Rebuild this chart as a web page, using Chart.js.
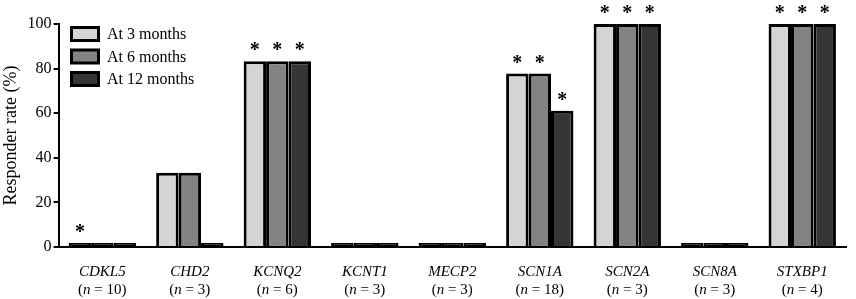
<!DOCTYPE html>
<html>
<head>
<meta charset="utf-8">
<script src="https://cdn.jsdelivr.net/npm/chart.js@4/dist/chart.umd.min.js"></script>
<style>
  html, body { margin: 0; padding: 0; background: #fff; }
  #wrap { width: 856px; height: 299px; }
</style>
</head>
<body>
<div id="wrap"><canvas id="responderChart"></canvas></div>
<script>
// genes, cohort sizes and responder rates (%)
const genes = ['CDKL5', 'CHD2', 'KCNQ2', 'KCNT1', 'MECP2', 'SCN1A', 'SCN2A', 'SCN8A', 'STXBP1'];
const cohortSizes = [10, 3, 6, 3, 3, 18, 3, 3, 4];
const rate3m = [0, 33.3, 83.3, 0, 0, 77.8, 100, 0, 100];
const rate6m = [0, 33.3, 83.3, 0, 0, 77.8, 100, 0, 100];
const rate12m = [0, 0, 83.3, 0, 0, 61.1, 100, 0, 100];
// significance markers per series
const star3m = [true, false, true, false, false, true, true, false, true];
const star6m = [false, false, true, false, false, true, true, false, true];
const star12m = [false, false, true, false, false, true, true, false, true];
const yTicks = [0, 20, 40, 60, 80, 100];

const serif = "'Liberation Serif', 'DejaVu Serif', serif";
const fills = ['#d4d4d4', '#838383', '#353535'];

// draws asterisks over bars, the italic gene labels and the inset legend
const annotations = {
  id: 'annotations',
  afterDatasetsDraw(chart) {
    const ctx = chart.ctx;
    const stars = [star3m, star6m, star12m];
    ctx.save();
    ctx.fillStyle = '#000';
    ctx.textAlign = 'center';
    ctx.textBaseline = 'alphabetic';
    ctx.font = 'bold 20px ' + serif;
    chart.data.datasets.forEach((ds, di) => {
      const meta = chart.getDatasetMeta(di);
      meta.data.forEach((bar, i) => {
        if (!stars[di][i]) return;
        ctx.fillText('*', bar.x, bar.y - 5);
      });
    });

    // x labels: italic gene, then (n = N) with italic n
    const xs = chart.scales.x;
    genes.forEach((g, i) => {
      const x = xs.getPixelForValue(i);
      ctx.font = 'italic 15px ' + serif;
      ctx.textAlign = 'center';
      ctx.fillText(g, x, 276);
      const a = '(', b = 'n', c = ' = ' + cohortSizes[i] + ')';
      ctx.font = '15px ' + serif;
      const wa = ctx.measureText(a).width, wc = ctx.measureText(c).width;
      ctx.font = 'italic 15px ' + serif;
      const wb = ctx.measureText(b).width;
      let left = x - (wa + wb + wc) / 2;
      ctx.textAlign = 'left';
      ctx.font = '15px ' + serif;
      ctx.fillText(a, left, 294);
      ctx.font = 'italic 15px ' + serif;
      ctx.fillText(b, left + wa, 294);
      ctx.font = '15px ' + serif;
      ctx.fillText(c, left + wa + wb, 294);
    });

    // legend
    ctx.font = '16px ' + serif;
    ctx.textBaseline = 'middle';
    chart.data.datasets.forEach((ds, di) => {
      const cy = 34 + di * 22.5;
      ctx.fillStyle = '#000';
      ctx.fillRect(70, cy - 8, 30, 16);
      ctx.fillStyle = fills[di];
      ctx.fillRect(73, cy - 5, 24, 10);
      ctx.fillStyle = '#000';
      ctx.fillText(ds.label, 107, cy + 1);
    });
    ctx.restore();
  }
};

// zero-rate bars show as a thin solid black strip
const fillFor = color => c => (c.raw === 0 ? '#000' : color);

const barStyle = {
  borderColor: '#000',
  borderWidth: 3,
  borderSkipped: 'start',
  minBarLength: 4,
  categoryPercentage: 0.77,
  barPercentage: 1.0
};

new Chart(document.getElementById('responderChart'), {
  type: 'bar',
  data: {
    labels: genes,
    datasets: [
      Object.assign({ label: 'At 3 months', data: rate3m, backgroundColor: fillFor(fills[0]) }, barStyle),
      Object.assign({ label: 'At 6 months', data: rate6m, backgroundColor: fillFor(fills[1]) }, barStyle),
      Object.assign({ label: 'At 12 months', data: rate12m, backgroundColor: fillFor(fills[2]) }, barStyle)
    ]
  },
  options: {
    responsive: true,
    maintainAspectRatio: false,
    animation: false,
    layout: { padding: { top: 24, right: 10, bottom: 44, left: 0 } },
    plugins: {
      legend: { display: false },
      tooltip: { enabled: false }
    },
    scales: {
      x: {
        grid: { display: false },
        border: { display: true, color: '#000', width: 2 },
        ticks: { display: false }
      },
      y: {
        min: 0,
        max: 100,
        afterBuildTicks: axis => { axis.ticks = yTicks.map(v => ({ value: v })); },
        grid: { display: true, drawOnChartArea: false, drawTicks: true, tickLength: 5, color: '#000', lineWidth: 2 },
        border: { display: true, color: '#000', width: 2 },
        ticks: {
          color: '#000',
          padding: 2,
          font: { family: serif, size: 16 }
        },
        title: {
          display: true,
          text: 'Responder rate (%)',
          color: '#000',
          padding: { top: 0, bottom: 4 },
          font: { family: serif, size: 18 }
        }
      }
    }
  },
  plugins: [annotations]
});
</script>
</body>
</html>
